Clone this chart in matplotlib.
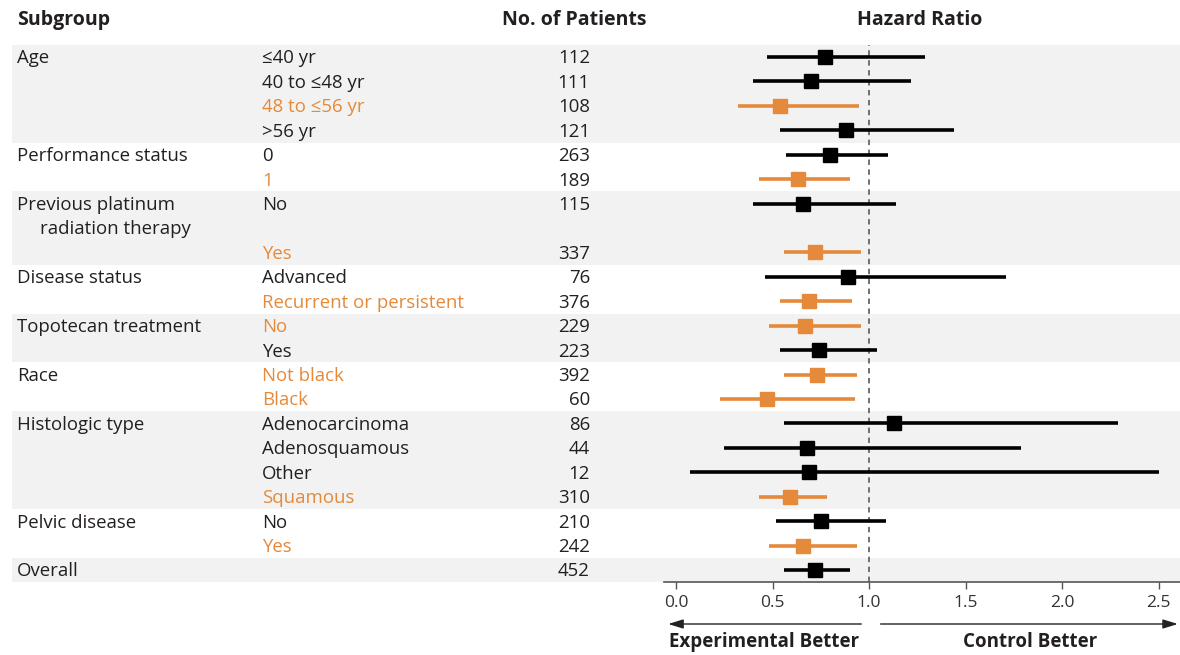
import numpy as np
import matplotlib.pyplot as plt

plt.rcParams['font.family'] = ['Open Sans', 'DejaVu Sans']

# Subgroup table: one entry per printed row (row 7 is the 2nd line of a label)
subgroup = ["Age", "", "", "", "Performance status", "", "Previous platinum",
            "radiation therapy", "", "Disease status", "", "Topotecan treatment", "",
            "Race", "", "Histologic type", "", "", "", "Pelvic disease", "", "Overall"]
level = ["\u226440 yr", "40 to \u226448 yr", "48 to \u226456 yr", ">56 yr", "0", "1", "No", "",
         "Yes", "Advanced", "Recurrent or persistent", "No", "Yes", "Not black", "Black",
         "Adenocarcinoma", "Adenosquamous", "Other", "Squamous", "No", "Yes", ""]
n_patients = [112, 111, 108, 121, 263, 189, 115, None, 337, 76, 376, 229, 223, 392, 60,
              86, 44, 12, 310, 210, 242, 452]
hr = [0.77, 0.70, 0.54, 0.88, 0.80, 0.63, 0.66, np.nan, 0.72, 0.89, 0.69, 0.67, 0.74,
      0.73, 0.47, 1.13, 0.68, 0.69, 0.59, 0.75, 0.66, 0.72]
ci_low = [0.47, 0.40, 0.32, 0.54, 0.57, 0.43, 0.40, np.nan, 0.56, 0.46, 0.54, 0.48, 0.54,
          0.56, 0.23, 0.56, 0.25, 0.07, 0.43, 0.52, 0.48, 0.56]
ci_high = [1.29, 1.22, 0.95, 1.44, 1.10, 0.90, 1.14, np.nan, 0.96, 1.71, 0.91, 0.96, 1.04,
           0.94, 0.93, 2.29, 1.79, 2.50, 0.78, 1.09, 0.94, 0.90]
highlight = [False, False, True, False, False, True, False, False, True, False, True, True,
             False, True, True, False, False, False, True, False, True, False]
group_start = [0, 4, 6, 9, 11, 13, 15, 19, 21]
xticks = [0.0, 0.5, 1.0, 1.5, 2.0, 2.5]

ORANGE = '#e5893a'
TEXT = '#231f20'
BAND = '#f2f2f2'
ROW_FS = 13.4
HEAD_FS = 14

W, H = 1180, 655
row0, row_h = 57, 24.43          # pixel centre of first row, row pitch
rows = np.arange(len(level))

fig = plt.figure(figsize=(W / 100, H / 100), dpi=100)

# table / background axes: x in pixels, y in row units
tab = fig.add_axes([0, 0, 1, 1])
tab.set_xlim(0, W)
tab.set_ylim((H - row0) / row_h, -row0 / row_h)
tab.axis('off')

# shaded bands for every other subgroup
ends = group_start[1:] + [len(level)]
for k, (s, e) in enumerate(zip(group_start, ends)):
    if k % 2 == 0:
        tab.axhspan(s - 0.5, e - 0.5, xmin=12 / W, xmax=1, color=BAND, lw=0, zorder=0)

head_y = (20 - row0) / row_h
tab.text(17, head_y, "Subgroup", fontsize=HEAD_FS, fontweight='bold', color=TEXT, va='center')
tab.text(574, head_y, "No. of Patients", fontsize=HEAD_FS, fontweight='bold', color=TEXT,
         va='center', ha='center')
tab.text(920, head_y, "Hazard Ratio", fontsize=HEAD_FS, fontweight='bold', color=TEXT,
         va='center', ha='center')

for i in rows:
    col = ORANGE if highlight[i] else TEXT
    y = i + 0.06
    if subgroup[i]:
        x0 = 40 if i == 7 else 17
        tab.text(x0, y, subgroup[i], fontsize=ROW_FS, color=TEXT, va='center')
    if level[i]:
        tab.text(262, y, level[i], fontsize=ROW_FS, color=col, va='center')
    if n_patients[i] is not None:
        tab.text(590, y, str(n_patients[i]), fontsize=ROW_FS, color=TEXT, va='center', ha='right')

# forest plot axes
x_left, x_zero, px_per_unit = 664, 676, 193
top_px = row0 - 0.5 * row_h
bot_px = row0 + 21.5 * row_h
ax = fig.add_axes([x_left / W, (H - bot_px) / H, (W - x_left) / W, (bot_px - top_px) / H])
ax.set_xlim((x_left - x_zero) / px_per_unit, (W - x_zero) / px_per_unit)
ax.set_ylim(21.5, -0.5)
ax.patch.set_visible(False)
for side in ['top', 'left', 'right']:
    ax.spines[side].set_visible(False)
ax.spines['bottom'].set_color('#555555')
ax.spines['bottom'].set_linewidth(1.2)
ax.set_yticks([])
ax.set_xticks(xticks)
ax.set_xticklabels([f"{t:.1f}" for t in xticks])
ax.tick_params(axis='x', direction='out', length=5, width=1.0, color='#555555',
               labelsize=12.5, labelcolor='#333333', pad=4)

ax.axvline(1.0, color='#666666', lw=1.3, ls=(0, (3, 2.5)), zorder=1)

hr_a, lo_a, hi_a = np.array(hr), np.array(ci_low), np.array(ci_high)
hl = np.array(highlight)
for mask, c in [(~hl, 'black'), (hl, ORANGE)]:
    ax.hlines(rows[mask], lo_a[mask], hi_a[mask], color=c, lw=2.6, zorder=2)
    ax.plot(hr_a[mask], rows[mask], 's', color=c, ms=10, zorder=3)

# direction arrows and captions under the axis
ax_h = bot_px - top_px
arr_y = -(624 - bot_px) / ax_h
txt_y = -(642 - bot_px) / ax_h
arrow = dict(arrowstyle='-|>,head_length=0.9,head_width=0.28', color='#222222', lw=1.0,
             shrinkA=0, shrinkB=0)
ax.annotate('', xy=(-0.04, arr_y), xytext=(0.96, arr_y),
            xycoords=('data', 'axes fraction'), textcoords=('data', 'axes fraction'),
            arrowprops=arrow, annotation_clip=False)
ax.annotate('', xy=(2.6, arr_y), xytext=(1.06, arr_y),
            xycoords=('data', 'axes fraction'), textcoords=('data', 'axes fraction'),
            arrowprops=arrow, annotation_clip=False)
ax.text(0.456, txt_y, "Experimental Better", transform=ax.get_xaxis_transform(),
        fontsize=13.5, fontweight='bold', color=TEXT, ha='center', va='center')
ax.text(1.834, txt_y, "Control Better", transform=ax.get_xaxis_transform(),
        fontsize=13.5, fontweight='bold', color=TEXT, ha='center', va='center')

plt.savefig('out.png', dpi=100)
